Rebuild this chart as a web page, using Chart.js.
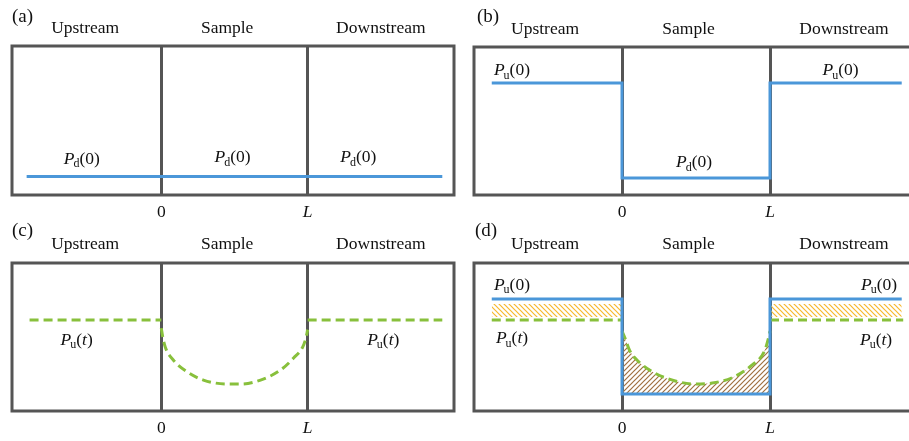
<!DOCTYPE html>
<html>
<head>
<meta charset="utf-8">
<script src="https://cdn.jsdelivr.net/npm/chart.js@4.4.1/dist/chart.umd.min.js"></script>
<style>
  html, body { margin: 0; padding: 0; background: #fff; overflow: hidden; width: 909px; height: 441px; }
  canvas { position: absolute; }
</style>
</head>
<body>
<canvas id="pa" width="456" height="220" style="left:0;top:0"></canvas>
<canvas id="pb" width="470" height="220" style="left:455px;top:0"></canvas>
<canvas id="pc" width="456" height="221" style="left:0;top:220px"></canvas>
<canvas id="pd" width="470" height="221" style="left:455px;top:220px"></canvas>
<script>
var SERIF = '"Liberation Serif", "Times New Roman", serif';
var BLUE = '#4b97d9', GREEN = '#88c03c', FRAME = '#555555', INK = '#111111';

// axis ticks and region headers
var xTicks = [0, 1];
var xTickLabels = ['0', 'L'];
var regions = ['Upstream', 'Sample', 'Downstream'];
var regionX = [-0.52, 0.45, 1.5];

// (a) whole system at Pd(0)
var aLineX = [-0.92, 1.92];
var aLineY = [12.4, 12.4];

// (b) upstream/downstream raised to Pu(0), sample still at Pd(0)
var bStepX = [-0.88, 0, 0, 1, 1, 1.89];
var bStepY = [75.7, 75.7, 11.5, 11.5, 75.7, 75.7];

// (c) Pu(t) outside, pressure profile inside the sample
var cLeftX = [-0.9, 0];
var cLeftY = [61.5, 61.5];
var cCurveX = [0, 0.01, 0.027, 0.082, 0.178, 0.288, 0.452, 0.541, 0.678, 0.815, 0.904, 0.966, 0.99, 1];
var cCurveY = [56, 50, 43.2, 34.5, 26.4, 20.9, 18.2, 18.2, 20.9, 27.7, 35.8, 43.2, 50, 55];
var cRightX = [1, 1.92];
var cRightY = [61.5, 61.5];

// (d) both states overlaid
var dStepX = [-0.88, 0, 0, 1, 1, 1.89];
var dStepY = [75.7, 75.7, 11.5, 11.5, 75.7, 75.7];
var dLeftX = [-0.88, 0];
var dLeftY = [61.5, 61.5];
var dRightX = [1, 1.9];
var dRightY = [61.5, 61.5];
var dCurveX = [0, 0.02, 0.05, 0.115, 0.22, 0.36, 0.49, 0.61, 0.74, 0.88, 0.96, 0.99, 1];
var dCurveY = [54, 49.3, 41.2, 33.1, 25.7, 20.3, 18.2, 18.9, 22.3, 31.1, 39.9, 49.3, 54];
var dBandLX = [-0.88, 0];
var dBandRX = [1, 1.89];
var dBandTop = [72.3, 72.3];
var dBandBase = 63.5;
var dFloor = 11.5;

function pts(xs, ys) {
  return xs.map(function(x, i) { return { x: x, y: ys[i] }; });
}

function line(xs, ys, color, dashed, extra) {
  var d = {
    data: pts(xs, ys),
    borderColor: color,
    borderWidth: 3,
    borderDash: dashed ? [9, 5] : [],
    pointRadius: 0,
    fill: false,
    tension: 0
  };
  return Object.assign(d, extra || {});
}

function hatch(color, forward) {
  var c = document.createElement('canvas');
  c.width = c.height = 5;
  var g = c.getContext('2d');
  g.strokeStyle = color;
  g.lineWidth = 1.2;
  g.beginPath();
  if (forward) { // "/"
    g.moveTo(-1, 6); g.lineTo(6, -1);
    g.moveTo(-1, 1); g.lineTo(1, -1);
    g.moveTo(4, 6); g.lineTo(6, 4);
  } else { // "\"
    g.moveTo(-1, -1); g.lineTo(6, 6);
    g.moveTo(-1, 4); g.lineTo(1, 6);
    g.moveTo(4, -1); g.lineTo(6, 1);
  }
  g.stroke();
  return g.createPattern(c, 'repeat');
}

// P with subscript and argument, centred on (cx, cy)
function drawP(ctx, cx, cy, sub, arg) {
  var big = '17.5px ' + SERIF, bigIt = 'italic 17.5px ' + SERIF, small = '12px ' + SERIF;
  var argFont = /[a-z]/.test(arg) ? bigIt : big;
  var parts = [
    { t: 'P', f: bigIt, dy: 0 },
    { t: sub, f: small, dy: 5 },
    { t: '(', f: big, dy: 0 },
    { t: arg, f: argFont, dy: 0 },
    { t: ')', f: big, dy: 0 }
  ];
  var w = 0;
  parts.forEach(function(p) { ctx.font = p.f; p.w = ctx.measureText(p.t).width; w += p.w; });
  var x = cx - w / 2;
  parts.forEach(function(p) {
    ctx.font = p.f;
    ctx.fillText(p.t, x, cy + p.dy);
    x += p.w + (p.t === 'P' ? -1 : 0);
  });
}

var panelDeco = {
  id: 'panelDeco',
  beforeDatasetsDraw: function(chart) {
    var a = chart.chartArea, ctx = chart.ctx;
    ctx.save();
    ctx.strokeStyle = FRAME;
    ctx.lineWidth = 3;
    ctx.strokeRect(a.left, a.top, a.right - a.left, a.bottom - a.top);
    ctx.restore();
  },
  afterDatasetsDraw: function(chart, args, opts) {
    var ctx = chart.ctx, xs = chart.scales.x, ys = chart.scales.y;
    ctx.save();
    ctx.fillStyle = INK;
    ctx.textBaseline = 'middle';
    ctx.font = '19px ' + SERIF;
    ctx.fillText(opts.letter, opts.lx, opts.ly);
    (opts.labels || []).forEach(function(l) {
      drawP(ctx, xs.getPixelForValue(l.x), ys.getPixelForValue(l.y), l.sub, l.arg);
    });
    ctx.restore();
  }
};

function makePanel(id, p) {
  var el = document.getElementById(id);
  if (!el || typeof Chart === 'undefined') return null;
  return new Chart(el, {
    type: 'line',
    data: { datasets: p.datasets },
    options: {
      responsive: false,
      animation: false,
      events: [],
      layout: { padding: { left: p.padLeft, right: p.padRight, top: 0, bottom: 0 } },
      plugins: {
        legend: { display: false },
        tooltip: { enabled: false },
        panelDeco: { letter: p.letter, lx: p.lx, ly: p.ly, labels: p.labels }
      },
      scales: {
        x: {
          type: 'linear', position: 'bottom', min: p.xMin, max: p.xMax,
          afterBuildTicks: function(s) { s.ticks = xTicks.map(function(v) { return { value: v }; }); },
          afterFit: function(s) { s.height = p.botH; },
          grid: { color: FRAME, lineWidth: 3, drawTicks: false },
          border: { display: false },
          ticks: {
            autoSkip: false, maxRotation: 0, padding: p.botPad, color: INK,
            callback: function(v, i) { return xTickLabels[i]; },
            font: function(c) { return { family: SERIF, size: 17.5, style: c.index === 1 ? 'italic' : 'normal' }; }
          }
        },
        xTop: {
          type: 'linear', position: 'top', min: p.xMin, max: p.xMax,
          afterBuildTicks: function(s) { s.ticks = regionX.map(function(v) { return { value: v }; }); },
          afterFit: function(s) { s.height = p.topH; },
          grid: { display: false, drawTicks: false },
          border: { display: false },
          ticks: {
            autoSkip: false, maxRotation: 0, padding: p.topPad, color: INK,
            callback: function(v, i) { return regions[i]; },
            font: { family: SERIF, size: 17.5 }
          }
        },
        y: { display: false, min: 0, max: 100 }
      }
    },
    plugins: [panelDeco]
  });
}

var orangeHatch = hatch('#f7b92e', false);
var brownHatch = hatch('#a07040', true);

makePanel('pa', {
  xMin: -1.02, xMax: 2.0, padLeft: 12, padRight: 2, topH: 46, botH: 25, topPad: 7, botPad: 7,
  letter: '(a)', lx: 12, ly: 17,
  labels: [
    { x: -0.54, y: 24, sub: 'd', arg: '0' },
    { x: 0.49, y: 25, sub: 'd', arg: '0' },
    { x: 1.35, y: 25, sub: 'd', arg: '0' }
  ],
  datasets: [line(aLineX, aLineY, BLUE, false)]
});

makePanel('pb', {
  xMin: -1.0, xMax: 2.0, padLeft: 19, padRight: 7, topH: 47, botH: 25, topPad: 7, botPad: 7,
  letter: '(b)', lx: 22, ly: 17,
  labels: [
    { x: -0.74, y: 84, sub: 'u', arg: '0' },
    { x: 1.48, y: 84, sub: 'u', arg: '0' },
    { x: 0.49, y: 22, sub: 'd', arg: '0' }
  ],
  datasets: [line(bStepX, bStepY, BLUE, false)]
});

makePanel('pc', {
  xMin: -1.02, xMax: 2.0, padLeft: 12, padRight: 2, topH: 43, botH: 30, topPad: 8, botPad: 7,
  letter: '(c)', lx: 12, ly: 11,
  labels: [
    { x: -0.575, y: 48, sub: 'u', arg: 't' },
    { x: 1.52, y: 48, sub: 'u', arg: 't' }
  ],
  datasets: [
    line(cLeftX, cLeftY, GREEN, true),
    line(cCurveX, cCurveY, GREEN, true, { cubicInterpolationMode: 'monotone' }),
    line(cRightX, cRightY, GREEN, true)
  ]
});

makePanel('pd', {
  xMin: -1.0, xMax: 2.0, padLeft: 19, padRight: 7, topH: 43, botH: 30, topPad: 8, botPad: 7,
  letter: '(d)', lx: 20, ly: 11,
  labels: [
    { x: -0.74, y: 85, sub: 'u', arg: '0' },
    { x: -0.74, y: 49, sub: 'u', arg: 't' },
    { x: 1.74, y: 85, sub: 'u', arg: '0' },
    { x: 1.72, y: 48, sub: 'u', arg: 't' }
  ],
  datasets: [
    line(dStepX, dStepY, BLUE, false),
    line(dLeftX, dLeftY, GREEN, true),
    line(dCurveX, dCurveY, GREEN, true, { cubicInterpolationMode: 'monotone', fill: { value: dFloor }, backgroundColor: brownHatch }),
    line(dRightX, dRightY, GREEN, true),
    line(dBandLX, dBandTop, 'rgba(0,0,0,0)', false, { borderWidth: 0, fill: { value: dBandBase }, backgroundColor: orangeHatch }),
    line(dBandRX, dBandTop, 'rgba(0,0,0,0)', false, { borderWidth: 0, fill: { value: dBandBase }, backgroundColor: orangeHatch })
  ]
});
</script>
</body>
</html>
